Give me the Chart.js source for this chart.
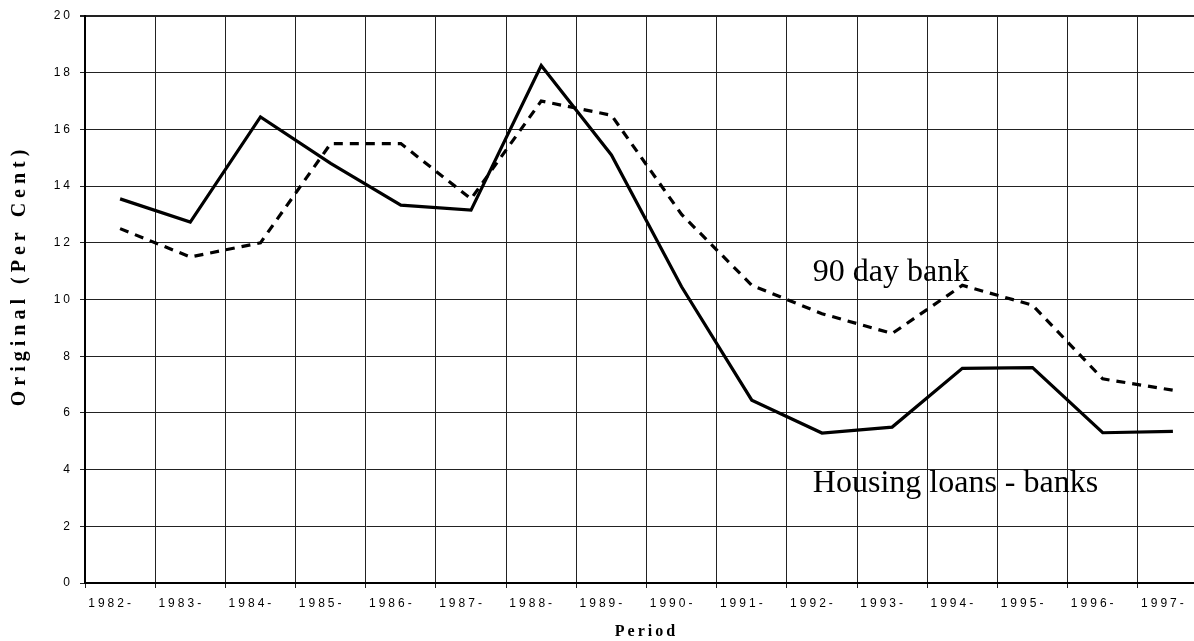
<!DOCTYPE html>
<html>
<head>
<meta charset="utf-8">
<script src="https://cdn.jsdelivr.net/npm/chart.js@4/dist/chart.umd.min.js"></script>
<style>
  html, body { margin: 0; padding: 0; background: #fff; overflow: hidden; }
  #wrap { width: 1212px; height: 641px; }
</style>
</head>
<body>
<div id="wrap"><canvas id="chart" width="1212" height="641"></canvas></div>
<script>
// ---- data ----
const periods = ["1982-", "1983-", "1984-", "1985-", "1986-", "1987-", "1988-", "1989-",
                 "1990-", "1991-", "1992-", "1993-", "1994-", "1995-", "1996-", "1997-"];
const housingLoans = [13.55, 12.73, 16.44, 14.8, 13.33, 13.15, 18.25, 15.1,
                      10.45, 6.45, 5.29, 5.5, 7.57, 7.6, 5.3, 5.35];
const bank90day = [12.5, 11.5, 12.0, 15.5, 15.5, 13.55, 17.0, 16.5,
                   13.0, 10.5, 9.5, 8.8, 10.5, 9.8, 7.2, 6.8];
const yTicks = [0, 2, 4, 6, 8, 10, 12, 14, 16, 18, 20];

// text labels placed in data units
const seriesNotes = [
  { text: "90 day bank", at: 9.87, value: 10.65 },
  { text: "Housing loans - banks", at: 9.87, value: 3.21 }
];
const yTitle = "Original (Per Cent)";

// ---- spaced tick text + notes + y title ----
const spacingPlugin = {
  id: "spacing",
  beforeDraw(chart) { chart.ctx.letterSpacing = "3px"; },
  beforeDatasetsDraw(chart) { chart.ctx.letterSpacing = "0px"; },
  afterDatasetsDraw(chart) {
    const ctx = chart.ctx;
    const x = chart.scales.x, y = chart.scales.y;
    ctx.save();
    ctx.letterSpacing = "0px";
    ctx.fillStyle = "#000";
    ctx.font = "32px 'Liberation Serif', 'Times New Roman', serif";
    ctx.textBaseline = "alphabetic";
    ctx.textAlign = "left";
    seriesNotes.forEach(n => {
      ctx.fillText(n.text, x.getPixelForValue(n.at), y.getPixelForValue(n.value));
    });

    // y axis title, spaced letters
    ctx.letterSpacing = "5px";
    ctx.font = "bold 20px 'Liberation Serif', 'Times New Roman', serif";
    ctx.textAlign = "center";
    ctx.textBaseline = "middle";
    ctx.translate(20, y.getPixelForValue(10.85));
    ctx.rotate(-Math.PI / 2);
    ctx.fillText(yTitle, 0, 0);
    ctx.restore();
  }
};

new Chart(document.getElementById("chart"), {
  type: "line",
  data: {
    labels: periods,
    datasets: [
      {
        label: "Housing loans - banks",
        data: housingLoans,
        borderColor: "#000",
        borderWidth: 3.2,
        pointRadius: 0,
        tension: 0
      },
      {
        label: "90 day bank",
        data: bank90day,
        borderColor: "#000",
        borderWidth: 3.2,
        borderDash: [9, 7],
        pointRadius: 0,
        tension: 0
      }
    ]
  },
  options: {
    responsive: false,
    animation: false,
    layout: { padding: { top: 16, right: 4, left: 0, bottom: 0 } },
    plugins: {
      legend: { display: false },
      tooltip: { enabled: false }
    },
    scales: {
      x: {
        offset: true,
        grid: { offset: true, color: "#222", lineWidth: 1, tickLength: 5 },
        border: { color: "#000", width: 2 },
        ticks: {
          color: "#000",
          font: { family: "'Liberation Sans', Arial, sans-serif", size: 12 },
          maxRotation: 0,
          autoSkip: false,
          padding: 8,
          labelOffset: -9
        },
        title: {
          display: true,
          text: "Period",
          color: "#000",
          font: { family: "'Liberation Serif', 'Times New Roman', serif", size: 16, weight: "bold" },
          padding: { top: 2, bottom: 0 }
        },
        afterFit(scale) { scale.height = 58; }
      },
      y: {
        min: 0,
        max: 20,
        afterBuildTicks(scale) { scale.ticks = yTicks.map(v => ({ value: v })); },
        grid: {
          color: "#222",
          lineWidth: c => (c.tick && c.tick.value === 20 ? 2 : 1),
          tickLength: 5
        },
        border: { color: "#000", width: 2 },
        ticks: {
          color: "#000",
          font: { family: "'Liberation Sans', Arial, sans-serif", size: 12 },
          padding: 7
        },
        title: { display: false },
        afterFit(scale) { scale.width = 85; }
      }
    }
  },
  plugins: [spacingPlugin]
});
</script>
</body>
</html>
